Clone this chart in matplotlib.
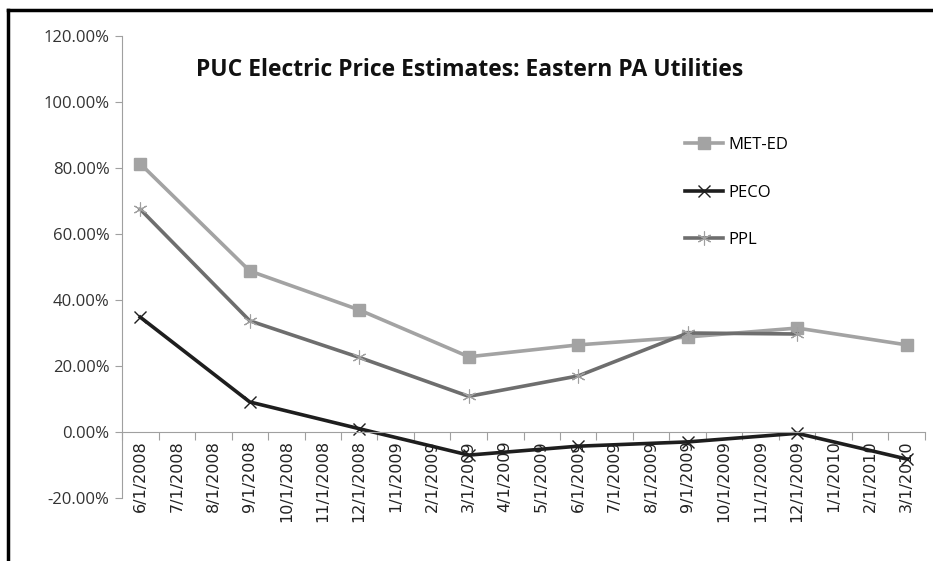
import numpy as np
import matplotlib.pyplot as plt
from matplotlib.lines import Line2D

# ---- DATA ----
months = ["6/1/2008", "7/1/2008", "8/1/2008", "9/1/2008", "10/1/2008", "11/1/2008",
          "12/1/2008", "1/1/2009", "2/1/2009", "3/1/2009", "4/1/2009", "5/1/2009",
          "6/1/2009", "7/1/2009", "8/1/2009", "9/1/2009", "10/1/2009", "11/1/2009",
          "12/1/2009", "1/1/2010", "2/1/2010", "3/1/2010"]
data_months = ["6/1/2008", "9/1/2008", "12/1/2008", "3/1/2009",
               "6/1/2009", "9/1/2009", "12/1/2009", "3/1/2010"]
met_ed = [81.3, 48.8, 37.0, 22.8, 26.4, 28.8, 31.5, 26.4]
peco = [34.8, 9.1, 1.0, -7.0, -4.3, -3.0, -0.4, -8.2]
ppl = [67.5, 33.7, 22.6, 10.8, 17.0, 30.0, 29.7, np.nan]
yticks = [-20, 0, 20, 40, 60, 80, 100, 120]

W, H = 933, 561
fig = plt.figure(figsize=(W / 100, H / 100), dpi=100)
ax = fig.add_axes([122 / W, 1 - 498 / H, (925 - 122) / W, (498 - 36) / H])

x = [months.index(m) for m in data_months]

ax.plot(x, met_ed, color="#a3a3a3", lw=2.6, marker="s", ms=8, label="MET-ED")
ax.plot(x, peco, color="#1e1e1e", lw=2.6, marker="x", ms=8, mew=1.0, label="PECO")
ax.plot(x, ppl, color="#6e6e6e", lw=2.6, marker=(6, 2, 0), ms=10, mew=0.8,
        markeredgecolor="#a0a0a0", label="PPL")

ax.set_ylim(-20, 120)
ax.set_yticks(yticks)
ax.set_yticklabels([f"{v:.2f}%" for v in yticks], fontsize=12, color="#333333",
                   family="Open Sans")
ax.set_xlim(-0.5, len(months) - 0.5)

# category axis: tick marks between months, labels at month centres
ax.set_xticks(np.arange(-0.5, len(months)), labels=[])
ax.set_xticks(np.arange(len(months)), labels=months, minor=True)
ax.tick_params(axis="x", which="major", length=6, direction="out", color="#a0a0a0")
ax.tick_params(axis="x", which="minor", length=0, pad=6, labelsize=11.5,
               labelrotation=90, labelcolor="#222222")
ax.tick_params(axis="y", length=5, direction="out", color="#a0a0a0", pad=4)

ax.spines["bottom"].set_position(("data", 0))
ax.spines["bottom"].set_color("#a0a0a0")
ax.spines["left"].set_color("#a0a0a0")
ax.spines["top"].set_visible(False)
ax.spines["right"].set_visible(False)

fig.text(470 / W, 1 - 70 / H, "PUC Electric Price Estimates: Eastern PA Utilities",
         ha="center", va="center", fontsize=16.5, fontweight="bold", family="Open Sans",
         color="#111111")

ax.legend(loc="upper left", bbox_to_anchor=((670 - 122) / (925 - 122), (498 - 122) / (498 - 36)),
          frameon=False, labelspacing=1.9, handlelength=2.3,
          handletextpad=0.3, prop={"family": "Open Sans", "size": 12})

# outer chart border (partially cropped in the original)
fig.add_artist(Line2D([8 / W, 8 / W], [0, 1 - 10 / H], color="black", lw=2.5))
fig.add_artist(Line2D([8 / W, 1], [1 - 10 / H, 1 - 10 / H], color="black", lw=2.5))

fig.savefig("out.png", dpi=100)
